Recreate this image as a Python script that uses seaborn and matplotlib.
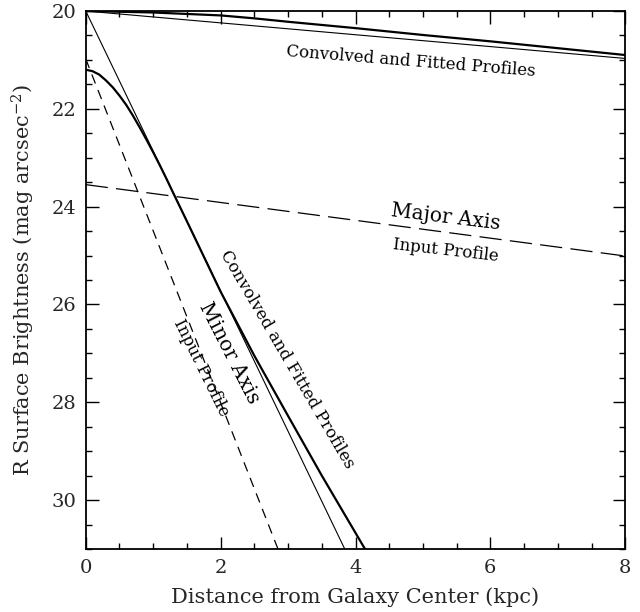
import numpy as np
import pandas as pd
import matplotlib
matplotlib.use("Agg")
import matplotlib.pyplot as plt
import seaborn as sns
from matplotlib.ticker import MultipleLocator

# Data (x in kpc, y in mag arcsec^-2)
major_conv_x = [0.0, 1.0, 2.0, 2.5, 3.0, 4.0, 5.0, 6.0, 7.0, 8.0]
major_conv_y = [20.0, 20.03, 20.09, 20.15, 20.22, 20.35, 20.49, 20.62, 20.76, 20.90]
major_fit_x = [0.0, 8.0]
major_fit_y = [20.0, 20.97]
major_input_x = [0.0, 8.0]
major_input_y = [23.55, 25.01]

minor_fit_x = [0.0, 3.84]
minor_fit_y = [20.0, 31.0]
minor_input_x = [0.0, 2.85]
minor_input_y = [20.98, 31.0]
minor_conv_x = [0.0, 0.1, 0.2, 0.3, 0.4, 0.5, 0.6, 0.7, 0.8, 0.9, 1.0,
                1.1, 1.2, 1.3, 1.5, 2.0, 2.5, 3.0, 3.5, 4.14]
minor_conv_y = [21.2, 21.23, 21.3, 21.42, 21.56, 21.73, 21.92, 22.14, 22.38,
                22.63, 22.89, 23.16, 23.44, 23.73, 24.3, 25.74, 27.05, 28.28,
                29.5, 31.0]

x_ticks = [0, 2, 4, 6, 8]
y_ticks = [20, 22, 24, 26, 28, 30]

sns.set_theme(style="ticks")
plt.rcParams["font.family"] = ["DejaVu Serif"]
plt.rcParams["mathtext.fontset"] = "dejavuserif"
plt.rcParams["lines.scale_dashes"] = False

fig = plt.figure(figsize=(6.4, 6.12), dpi=100)
ax = fig.add_axes([0.134, 0.103, 0.843, 0.879])

k = dict(ax=ax, color="black", legend=False)
sns.lineplot(x=major_conv_x, y=major_conv_y, linewidth=1.6, **k)
sns.lineplot(x=major_fit_x, y=major_fit_y, linewidth=0.8, **k)
sns.lineplot(x=major_input_x, y=major_input_y, linewidth=0.9,
             linestyle=(0, (16, 6)), **k)
sns.lineplot(x=minor_fit_x, y=minor_fit_y, linewidth=0.8, **k)
sns.lineplot(x=minor_input_x, y=minor_input_y, linewidth=0.9,
             linestyle=(0, (7, 5)), **k)
sns.lineplot(x=minor_conv_x, y=minor_conv_y, linewidth=1.6, **k)

ax.set_xlim(0, 8)
ax.set_ylim(31, 20)
ax.set_xticks(x_ticks)
ax.set_yticks(y_ticks)
ax.xaxis.set_minor_locator(MultipleLocator(0.5))
ax.yaxis.set_minor_locator(MultipleLocator(0.5))
ax.tick_params(which="both", direction="in", top=True, right=True,
               color="black", labelsize=14, width=1.0)
ax.tick_params(which="major", length=9, pad=7)
ax.tick_params(which="minor", length=4.5)
for s in ax.spines.values():
    s.set_linewidth(1.3)
    s.set_color("black")

ax.set_xlabel("Distance from Galaxy Center (kpc)", fontsize=15, labelpad=8)
ax.set_ylabel("R Surface Brightness (mag arcsec$^{-2}$)", fontsize=15, labelpad=10)

t = dict(ha="center", va="center", rotation_mode="anchor", color="black")
ax.text(4.82, 21.04, "Convolved and Fitted Profiles", fontsize=12, rotation=-4.6, **t)
ax.text(5.34, 24.22, "Major Axis", fontsize=14.5, rotation=-7, **t)
ax.text(5.34, 24.9, "Input Profile", fontsize=12, rotation=-6.5, **t)
ax.text(2.98, 27.12, "Convolved and Fitted Profiles", fontsize=12, rotation=-59.6, **t)
ax.text(2.12, 27.0, "Minor Axis", fontsize=14.5, rotation=-63, **t)
ax.text(1.71, 27.29, "Input Profile", fontsize=12, rotation=-63.7, **t)

fig.savefig("out.png", dpi=100, facecolor="white")
